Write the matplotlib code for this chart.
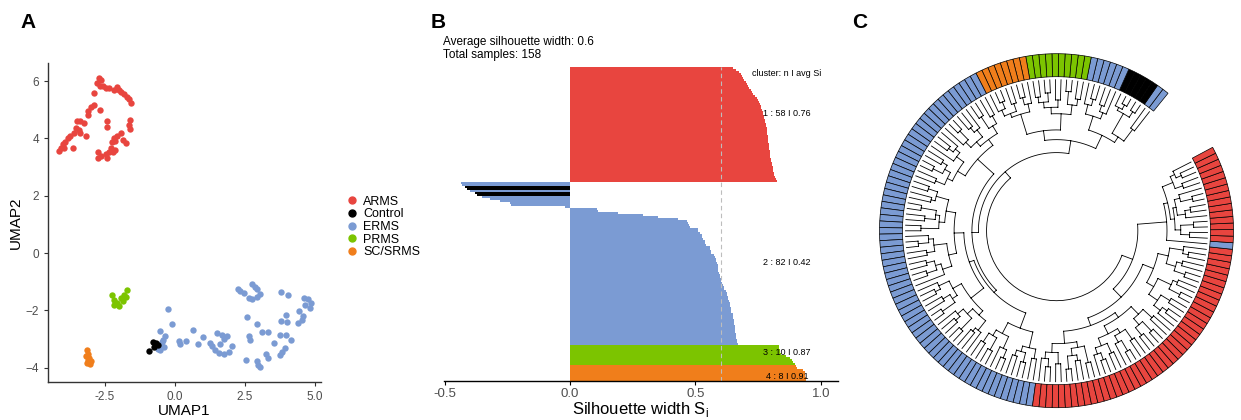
import numpy as np
import matplotlib
matplotlib.use("Agg")
import matplotlib.pyplot as plt
from matplotlib.lines import Line2D

plt.rcParams['font.family'] = ['Liberation Sans', 'DejaVu Sans']

# ---------------- data ----------------
types = ['ARMS', 'Control', 'ERMS', 'PRMS', 'SC/SRMS']
colors = {'ARMS': '#E8453F', 'Control': '#000000', 'ERMS': '#7B9BD3',
          'PRMS': '#7CC400', 'SC/SRMS': '#F07E1B'}

# panel A: UMAP coordinates
arms_x = [-2.72, -2.63, -2.78, -2.68, -2.56, -2.48, -2.36, -2.20, -2.08, -2.01, -1.92, -1.82, -1.72, -1.64,
          -1.57, -2.90, -3.00, -2.88, -3.10, -2.70, -3.41, -3.50, -3.25, -3.55, -3.45, -3.60, -3.38, -3.74,
          -3.20, -3.93, -4.02, -4.08, -4.14, -3.64, -2.45, -2.45, -1.60, -1.64, -1.60, -1.94, -2.06, -2.18,
          -2.13, -2.24, -1.87, -1.75, -2.30, -2.36, -2.23, -2.16, -2.48, -2.66, -2.74, -2.76, -2.42, -3.98,
          -3.84, -3.12]
arms_y = [6.10, 6.04, 5.92, 5.84, 5.84, 5.77, 5.75, 5.69, 5.80, 5.69, 5.61, 5.54, 5.46, 5.38,
          5.23, 5.57, 5.11, 5.17, 4.97, 4.99, 4.61, 4.59, 4.54, 4.36, 4.28, 4.19, 4.19, 4.10,
          4.07, 3.89, 3.80, 3.68, 3.57, 3.66, 4.61, 4.40, 4.65, 4.47, 4.33, 4.19, 4.10, 4.03,
          3.92, 3.87, 3.95, 3.84, 3.68, 3.54, 3.52, 3.60, 3.45, 3.38, 3.52, 3.31, 3.33, 3.68,
          4.01, 4.82]
erms_x = [-0.25, -0.10, -0.55, -0.37, -0.43, -0.41, -0.55, 0.15, 0.17, 0.39, 0.65, 0.80, 1.01, 1.23,
          1.31, 1.43, 1.55, 1.61, 1.49, 1.67, 1.85, 1.76, 1.76, 1.91, 2.03, 2.24, 2.31, 2.46,
          2.64, 2.76, 2.85, 2.92, 2.76, 2.92, 3.04, 2.55, 2.94, 3.12, 3.30, 2.64, 2.67, 2.54,
          2.91, 2.96, 3.03, 3.24, 3.30, 3.52, 3.78, 4.02, 3.78, 3.96, 4.00, 3.76, 3.96, 4.14,
          3.92, 3.80, 3.76, 4.38, 4.52, 4.44, 4.60, 4.74, 4.84, 4.80, 4.65, 4.56, -0.50, -0.60,
          -0.48]
erms_y = [-1.94, -2.47, -2.71, -2.90, -3.02, -3.29, -3.40, -3.08, -3.17, -3.08, -2.67, -3.17, -2.94, -3.14,
          -3.25, -3.37, -3.49, -3.19, -2.79, -2.85, -2.88, -2.99, -3.52, -3.45, -3.25, -1.24, -1.31, -1.39,
          -1.57, -1.08, -1.20, -1.24, -1.59, -1.55, -1.43, -2.24, -2.47, -2.76, -2.76, -2.90, -3.02, -3.72,
          -3.75, -3.89, -3.96, -3.54, -3.66, -3.15, -1.36, -1.45, -2.38, -2.15, -2.41, -2.85, -2.85, -3.02,
          -3.33, -3.45, -3.57, -2.44, -2.32, -2.01, -1.57, -1.62, -1.74, -1.92, -1.82, -2.21, -3.22, -3.36,
          -3.12]
ctrl_x = [-0.78, -0.70, -0.60, -0.74, -0.92]
ctrl_y = [-3.10, -3.15, -3.20, -3.28, -3.43]
prms_x = [-2.24, -1.72, -1.81, -1.93, -2.08, -1.99, -2.17, -1.75, -1.87, -2.20]
prms_y = [-1.48, -1.28, -1.45, -1.56, -1.74, -1.86, -1.80, -1.55, -1.66, -1.63]
scsr_x = [-3.14, -3.12, -3.08, -3.02, -3.16, -3.04, -3.12, -3.20]
scsr_y = [-3.37, -3.52, -3.66, -3.75, -3.83, -3.87, -3.72, -3.60]

# panel B: silhouette widths per cluster (in plotted order, top to bottom)
sil_c1 = [0.65, 0.66, 0.675, 0.68, 0.685, 0.69, 0.695, 0.70, 0.705, 0.71, 0.715, 0.72, 0.725,
          0.73, 0.738, 0.744, 0.748, 0.752, 0.756, 0.76, 0.763, 0.766, 0.769, 0.771, 0.773, 0.775,
          0.777, 0.779, 0.78, 0.782, 0.784, 0.785, 0.786, 0.787, 0.788, 0.789, 0.79, 0.791, 0.792,
          0.793, 0.794, 0.795, 0.796, 0.797, 0.798, 0.799, 0.80, 0.802, 0.804, 0.806, 0.807, 0.808,
          0.81, 0.812, 0.814, 0.816, 0.819, 0.823]
sil_c2 = [-0.435, -0.43, -0.42, -0.41, -0.40, -0.38, -0.37, -0.35, -0.32, -0.28, -0.24, -0.235, -0.02,
          0.106, 0.11, 0.19, 0.29, 0.35, 0.43, 0.465, 0.47, 0.474, 0.48, 0.51, 0.512, 0.52, 0.525,
          0.527, 0.53, 0.538, 0.54, 0.542, 0.556, 0.558, 0.56, 0.562, 0.575, 0.578, 0.58, 0.583,
          0.586, 0.588, 0.589, 0.59, 0.591, 0.593, 0.596, 0.598, 0.60, 0.602, 0.606, 0.61, 0.612,
          0.615, 0.62, 0.625, 0.627, 0.629, 0.631, 0.633, 0.636, 0.637, 0.638, 0.64, 0.641, 0.643,
          0.648, 0.65, 0.651, 0.652, 0.653, 0.655, 0.656, 0.657, 0.658, 0.659, 0.66, 0.661, 0.663,
          0.665, 0.666, 0.668]
sil_c2_control = [2, 3, 5, 6]
sil_c3 = [0.832, 0.834, 0.836, 0.838, 0.84, 0.86, 0.875, 0.885, 0.89, 0.898]
sil_c4 = [0.90, 0.905, 0.93, 0.935, 0.936, 0.938, 0.94, 0.942]
cluster_labels = ['1 : 58 I 0.76', '2 : 82 I 0.42', '3 : 10 I 0.87', '4 : 8 I 0.91']
avg_sil = 0.6

# panel C: leaf colours (runs, in leaf order) and merge heights between neighbouring leaves
ring_runs = [('ERMS', 2), ('Control', 5), ('ERMS', 6), ('PRMS', 10), ('SC/SRMS', 8),
             ('ERMS', 68), ('ARMS', 43), ('ERMS', 1), ('ARMS', 15)]
merge_h = [0.30, 0.48, 0.12, 0.20, 0.10, 0.16, 0.56, 0.30, 0.22, 0.38, 0.18, 0.26, 0.74,
           0.22, 0.30, 0.14, 0.42, 0.25, 0.34, 0.16, 0.27, 0.20, 0.62,
           0.26, 0.17, 0.36, 0.21, 0.31, 0.14, 0.23, 0.90,
           0.24, 0.35, 0.18, 0.46, 0.28, 0.21, 0.39, 0.15, 0.30, 0.55, 0.26, 0.19, 0.33, 0.44,
           0.22, 0.29, 0.16, 0.37, 0.25, 0.82,
           0.20, 0.32, 0.27, 0.48, 0.17, 0.36, 0.23, 0.41, 0.19, 0.60, 0.28, 0.15, 0.34, 0.24,
           0.50, 0.21, 0.31, 0.18, 0.38, 0.72,
           0.26, 0.19, 0.40, 0.23, 0.33, 0.14, 0.52, 0.27, 0.20, 0.36, 0.17, 0.45, 0.25, 0.30, 0.78,
           0.22, 0.35, 0.18, 0.43, 0.27, 0.16, 0.58, 0.24, 0.31, 0.19, 0.38, 0.26, 1.00,
           0.28, 0.18, 0.36, 0.22, 0.47, 0.15, 0.31, 0.24, 0.40, 0.19, 0.62, 0.26, 0.17, 0.34,
           0.21, 0.44, 0.29, 0.14, 0.38, 0.23, 0.55, 0.20, 0.32, 0.16, 0.42, 0.27, 0.72, 0.25,
           0.18, 0.35, 0.22, 0.48, 0.15, 0.30, 0.24, 0.58, 0.19, 0.33, 0.26, 0.45, 0.21, 0.28,
           0.86, 0.50,
           0.22, 0.33, 0.17, 0.40, 0.26, 0.19, 0.36, 0.14, 0.29, 0.45, 0.21, 0.31, 0.18, 0.25]

# ---------------- figure ----------------
fig = plt.figure(figsize=(12.41, 4.20), dpi=100)
W, H = 1241.0, 420.0
tick_col = '#4D4D4D'

# ---- A ----
axA = fig.add_axes([48 / W, 38 / H, 273 / W, 319 / H])
pts = {'ARMS': (arms_x, arms_y), 'ERMS': (erms_x, erms_y), 'Control': (ctrl_x, ctrl_y),
       'PRMS': (prms_x, prms_y), 'SC/SRMS': (scsr_x, scsr_y)}
for t in ['ARMS', 'ERMS', 'Control', 'PRMS', 'SC/SRMS']:
    axA.scatter(pts[t][0], pts[t][1], s=21, color=colors[t], linewidths=0)
axA.set_xlim(-4.54, 5.21)
axA.set_ylim(-4.5, 6.63)
axA.set_xticks([-2.5, 0.0, 2.5, 5.0])
axA.set_xticklabels(['-2.5', '0.0', '2.5', '5.0'])
axA.set_yticks([-4, -2, 0, 2, 4, 6])
for s in ['top', 'right']:
    axA.spines[s].set_visible(False)
for s in ['left', 'bottom']:
    axA.spines[s].set_color('#333333')
    axA.spines[s].set_linewidth(1.0)
axA.tick_params(labelsize=8.5, labelcolor=tick_col, color='#333333', length=3)
axA.set_xlabel('UMAP1', fontsize=11, labelpad=1)
axA.set_ylabel('UMAP2', fontsize=11, labelpad=2)
handles = [Line2D([], [], marker='o', ls='', markersize=5, color=colors[t], label=t) for t in types]
fig.legend(handles=handles, loc='center left', bbox_to_anchor=(338 / W, 1 - 227 / H), frameon=False,
           fontsize=9, handletextpad=0.3, labelspacing=0.05, handlelength=1.2, borderpad=0)

# ---- B ----
axB = fig.add_axes([444 / W, 39 / H, 394 / W, 314 / H])
sil_vals = sil_c1 + sil_c2 + sil_c3 + sil_c4
sil_cols = ([colors['ARMS']] * len(sil_c1)
            + [colors['Control'] if i in sil_c2_control else colors['ERMS'] for i in range(len(sil_c2))]
            + [colors['PRMS']] * len(sil_c3) + [colors['SC/SRMS']] * len(sil_c4))
ypos = np.arange(len(sil_vals))
axB.barh(ypos, sil_vals, height=1.0, color=sil_cols, linewidth=0)
axB.axvline(avg_sil, color='#BDBDBD', ls=(0, (4, 3)), lw=0.8)
axB.set_ylim(len(sil_vals) - 0.5, -0.5)
axB.set_xlim(-0.502, 1.068)
axB.set_xticks([-0.5, 0.0, 0.5, 1.0])
axB.set_xticklabels(['-0.5', '0.0', '0.5', '1.0'])
axB.set_yticks([])
for s in ['top', 'right', 'left']:
    axB.spines[s].set_visible(False)
axB.spines['bottom'].set_linewidth(1.0)
axB.tick_params(axis='x', labelsize=9.5, labelcolor=tick_col, length=3, pad=2)
axB.set_xlabel('Silhouette width S$_\\mathregular{i}$', fontsize=12, labelpad=0)
# cluster annotation
sizes = [len(sil_c1), len(sil_c2), len(sil_c3), len(sil_c4)]
starts = np.cumsum([0] + sizes[:-1])
axB.text(0.725, 3, 'cluster: n I avg Si', fontsize=6.5, va='center')
label_rows = [starts[0] + 23, starts[1] + 40, starts[2] + 3, starts[3] + 5]
for lab, row, xo in zip(cluster_labels, label_rows, [0.77, 0.77, 0.77, 0.78]):
    axB.text(xo, row, lab, fontsize=6.5, va='center')
fig.text(443 / W, 1 - 36 / H, 'Average silhouette width: %.1f\nTotal samples: %d' % (avg_sil, len(sil_vals)),
         fontsize=8.5, va='top', ha='left', linespacing=1.1)

# ---- C ----
ring_types = [t for t, n in ring_runs for _ in range(n)]
n_leaf = len(ring_types)
theta0, dtheta = 52.0, 2.134
leaf_ang = np.deg2rad(theta0 + dtheta * np.arange(n_leaf))
r_leaf, r_root = 151.0, 70.0


def rad(h):
    return r_leaf - (r_leaf - r_root) * h


xs, ys = [], []


def build(lo, hi):
    if lo == hi:
        return leaf_ang[lo], 0.0
    k = lo + int(np.argmax(merge_h[lo:hi]))
    a1, h1 = build(lo, k)
    a2, h2 = build(k + 1, hi)
    h = merge_h[k]
    for a, hc in ((a1, h1), (a2, h2)):
        xs.extend([a, a, np.nan])
        ys.extend([rad(hc), rad(h), np.nan])
    arc = np.linspace(a1, a2, 40)
    xs.extend(list(arc) + [np.nan])
    ys.extend([rad(h)] * len(arc) + [np.nan])
    return (a1 + a2) / 2.0, h


build(0, n_leaf - 1)

axC = fig.add_axes([876.5 / W, 9.3 / H, 360 / W, 360 / H], projection='polar')
axC.plot(xs, ys, color='black', lw=0.6)
axC.bar(leaf_ang, 23, width=np.deg2rad(dtheta), bottom=154,
        color=[colors[t] for t in ring_types], edgecolor='black', linewidth=0.5, align='center')
axC.set_ylim(0, 180)
axC.set_axis_off()

# panel letters
for x, lab in [(20, 'A'), (431, 'B'), (852, 'C')]:
    fig.text(x / W, 1 - 22 / H, lab, fontsize=15, fontweight='bold', va='center', ha='left')

fig.savefig('out.png', dpi=100)
